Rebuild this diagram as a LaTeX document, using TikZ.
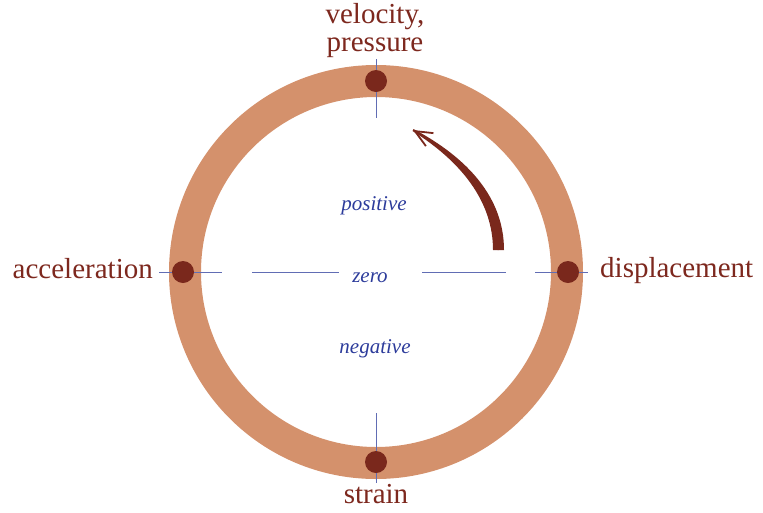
\documentclass[tikz,border=0pt]{standalone}
\usepackage{fontspec}
\setmainfont{Liberation Serif}
\usetikzlibrary{arrows.meta}

\definecolor{ringtan}{RGB}{212,145,108}
\definecolor{dotred}{RGB}{122,40,28}
\definecolor{labelred}{RGB}{125,40,30}
\definecolor{axisblue}{RGB}{45,60,155}

\begin{document}
\begin{tikzpicture}[
    x=1pt, y=-1pt,
    ring/.style={draw=ringtan, line width=32pt},
    dot/.style={circle, fill=dotred, inner sep=0pt, minimum size=22pt},
    quantity/.style={text=labelred, font=\fontsize{29}{28}\selectfont,
                     align=center, inner sep=0pt},
    level/.style={text=axisblue, font=\fontsize{21}{24}\selectfont\itshape, inner sep=0pt},
    axis/.style={draw=axisblue!75, line width=0.9pt},
    phasearrow/.style={fill=dotred, draw=none}
]
\useasboundingbox (0,0) rectangle (763,512);

% ===== Ring =====
\coordinate (c) at (376,272);
\draw[ring] (c) circle [radius=191pt];

% ===== Axis lines =====
\draw[axis] (159,272) -- (222,272);
\draw[axis] (252,272) -- (339,272);
\draw[axis] (422,272) -- (506,272);
\draw[axis] (535,272) -- (588,272);
\draw[axis] (376,59) -- (376,118);
\draw[axis] (376,413) -- (376,483);

% ===== Points on the ring =====
\node[dot] (vel) at (376,81)  {};
\node[dot] (acc) at (183,272) {};
\node[dot] (dis) at (568,272) {};
\node[dot] (str) at (376,462) {};

% ===== Labels =====
\node[quantity, anchor=south]     (velL) at (375,58)  {velocity,\\pressure};
\node[quantity, anchor=base east] (accL) at (153,278) {acceleration};
\node[quantity, anchor=base west] (disL) at (600,277) {displacement};
\node[quantity, anchor=base]      (strL) at (376,503) {strain};

\node[level, anchor=base] (pos)  at (374,210) {positive};
\node[level, anchor=base] (zero) at (370,282) {zero};
\node[level, anchor=base] (neg)  at (375,353) {negative};

% ===== Direction arrow =====
\coordinate (arrS) at (498.5,250);
\coordinate (arrE) at (413,130);
\fill[phasearrow] (493,250) .. controls (493,202) and (462,162) .. (412.5,131)
    -- (413.5,129) .. controls (468,158) and (504,198) .. (504,250) -- cycle;
\draw[dotred, line width=1.8pt, -{Straight Barb[length=17pt, width=15pt]}]
    (arrS) .. controls (498,200) and (465,160) .. (arrE);

\end{tikzpicture}
\end{document}
